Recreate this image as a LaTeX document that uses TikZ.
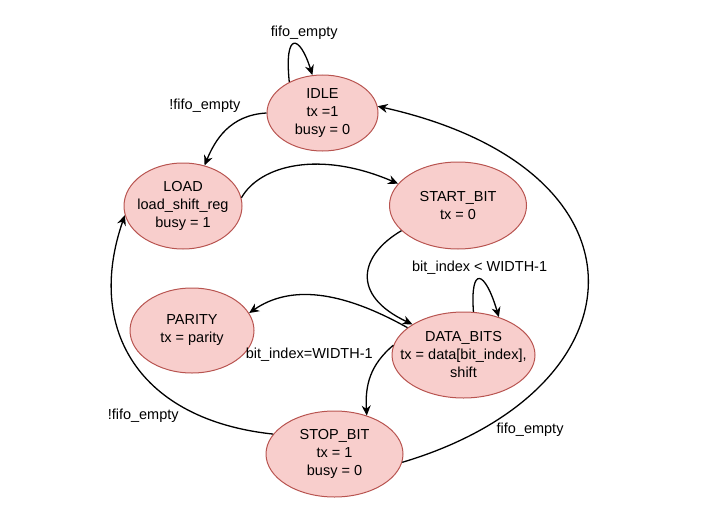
\documentclass[tikz,border=0pt]{standalone}
\usepackage{fontspec}
\setmainfont{Liberation Sans}
\usetikzlibrary{shapes.geometric,arrows.meta}
\definecolor{statefill}{HTML}{F8CECC}
\definecolor{stateline}{HTML}{B85450}

\begin{document}
\begin{tikzpicture}[x=1pt, y=-1pt, line width=1pt,
    state/.style={draw=stateline, fill=statefill, ellipse, inner sep=0pt, align=center, font=\fontsize{14.5}{18}\selectfont},
    trans/.style={line width=1.3pt, -{Stealth[length=10pt,width=9pt]}},
    cond/.style={font=\fontsize{14.5}{18}\selectfont, inner sep=2pt}]
    \useasboundingbox (0,0) rectangle (706,519);

    % Nodes
    \node (idle) [state, minimum width=111pt, minimum height=76pt] at (322.5,113) {IDLE\\tx =1\\busy = 0};
    \node (load) [state, minimum width=118pt, minimum height=86pt, inner xsep=-6pt] at (183,206) {LOAD\\load\_shift\_reg\\busy = 1};
    \node (startbit) [state, minimum width=137pt, minimum height=87pt] at (458,205.5) {START\_BIT\\tx = 0};
    \node (parity) [state, minimum width=124pt, minimum height=85pt] at (192,330.5) {PARITY\\tx = parity};
    \node (databits) [state, minimum width=143pt, minimum height=86pt, inner xsep=-15pt] at (463.5,355) {DATA\_BITS\\tx = data[bit\_index],\\shift};
    \node (stopbit) [state, minimum width=137pt, minimum height=86pt] at (334.5,454) {STOP\_BIT\\tx = 1\\busy = 0};

    % Arrows
    \draw[trans] (idle.137) .. controls (284,30) and (300,35) .. node[cond, above, xshift=10pt, yshift=2pt] {fifo\_empty} (idle.105);
    \draw[trans] (idle.west) .. controls (230,115) and (215,140) .. node[cond, pos=0.25, xshift=-38pt, yshift=13pt] {!fifo\_empty} (load.62);
    \draw[trans] (load.8) .. controls (260,165) and (320,150) .. (startbit.160);
    \draw[trans] (startbit.204) .. controls (360,255) and (350,295) .. (databits.149);
    \draw[trans] (databits.77) .. controls (470,265) and (485,270) .. node[cond, above, yshift=2pt] {bit\_index < WIDTH-1} (databits.47);
    \draw[trans] (databits.154) .. controls (340,290) and (290,285) .. (parity.17);
    \draw[trans] (databits.172) .. controls (370,365) and (365,385) .. node[cond, pos=0, anchor=east, xshift=-18pt, yshift=-10pt] {bit\_index=WIDTH-1} (stopbit.50);
    \draw[trans] (stopbit.162) .. controls (140,420) and (85,330) .. node[cond, pos=0.25, xshift=-45pt, yshift=-6pt] {!fifo\_empty} (load.189);
    \draw[trans] (stopbit.353) .. controls (645,390) and (662,170) .. node[cond, pos=0.15, anchor=north west, xshift=-2pt] {fifo\_empty} (idle.7);
\end{tikzpicture}
\end{document}
